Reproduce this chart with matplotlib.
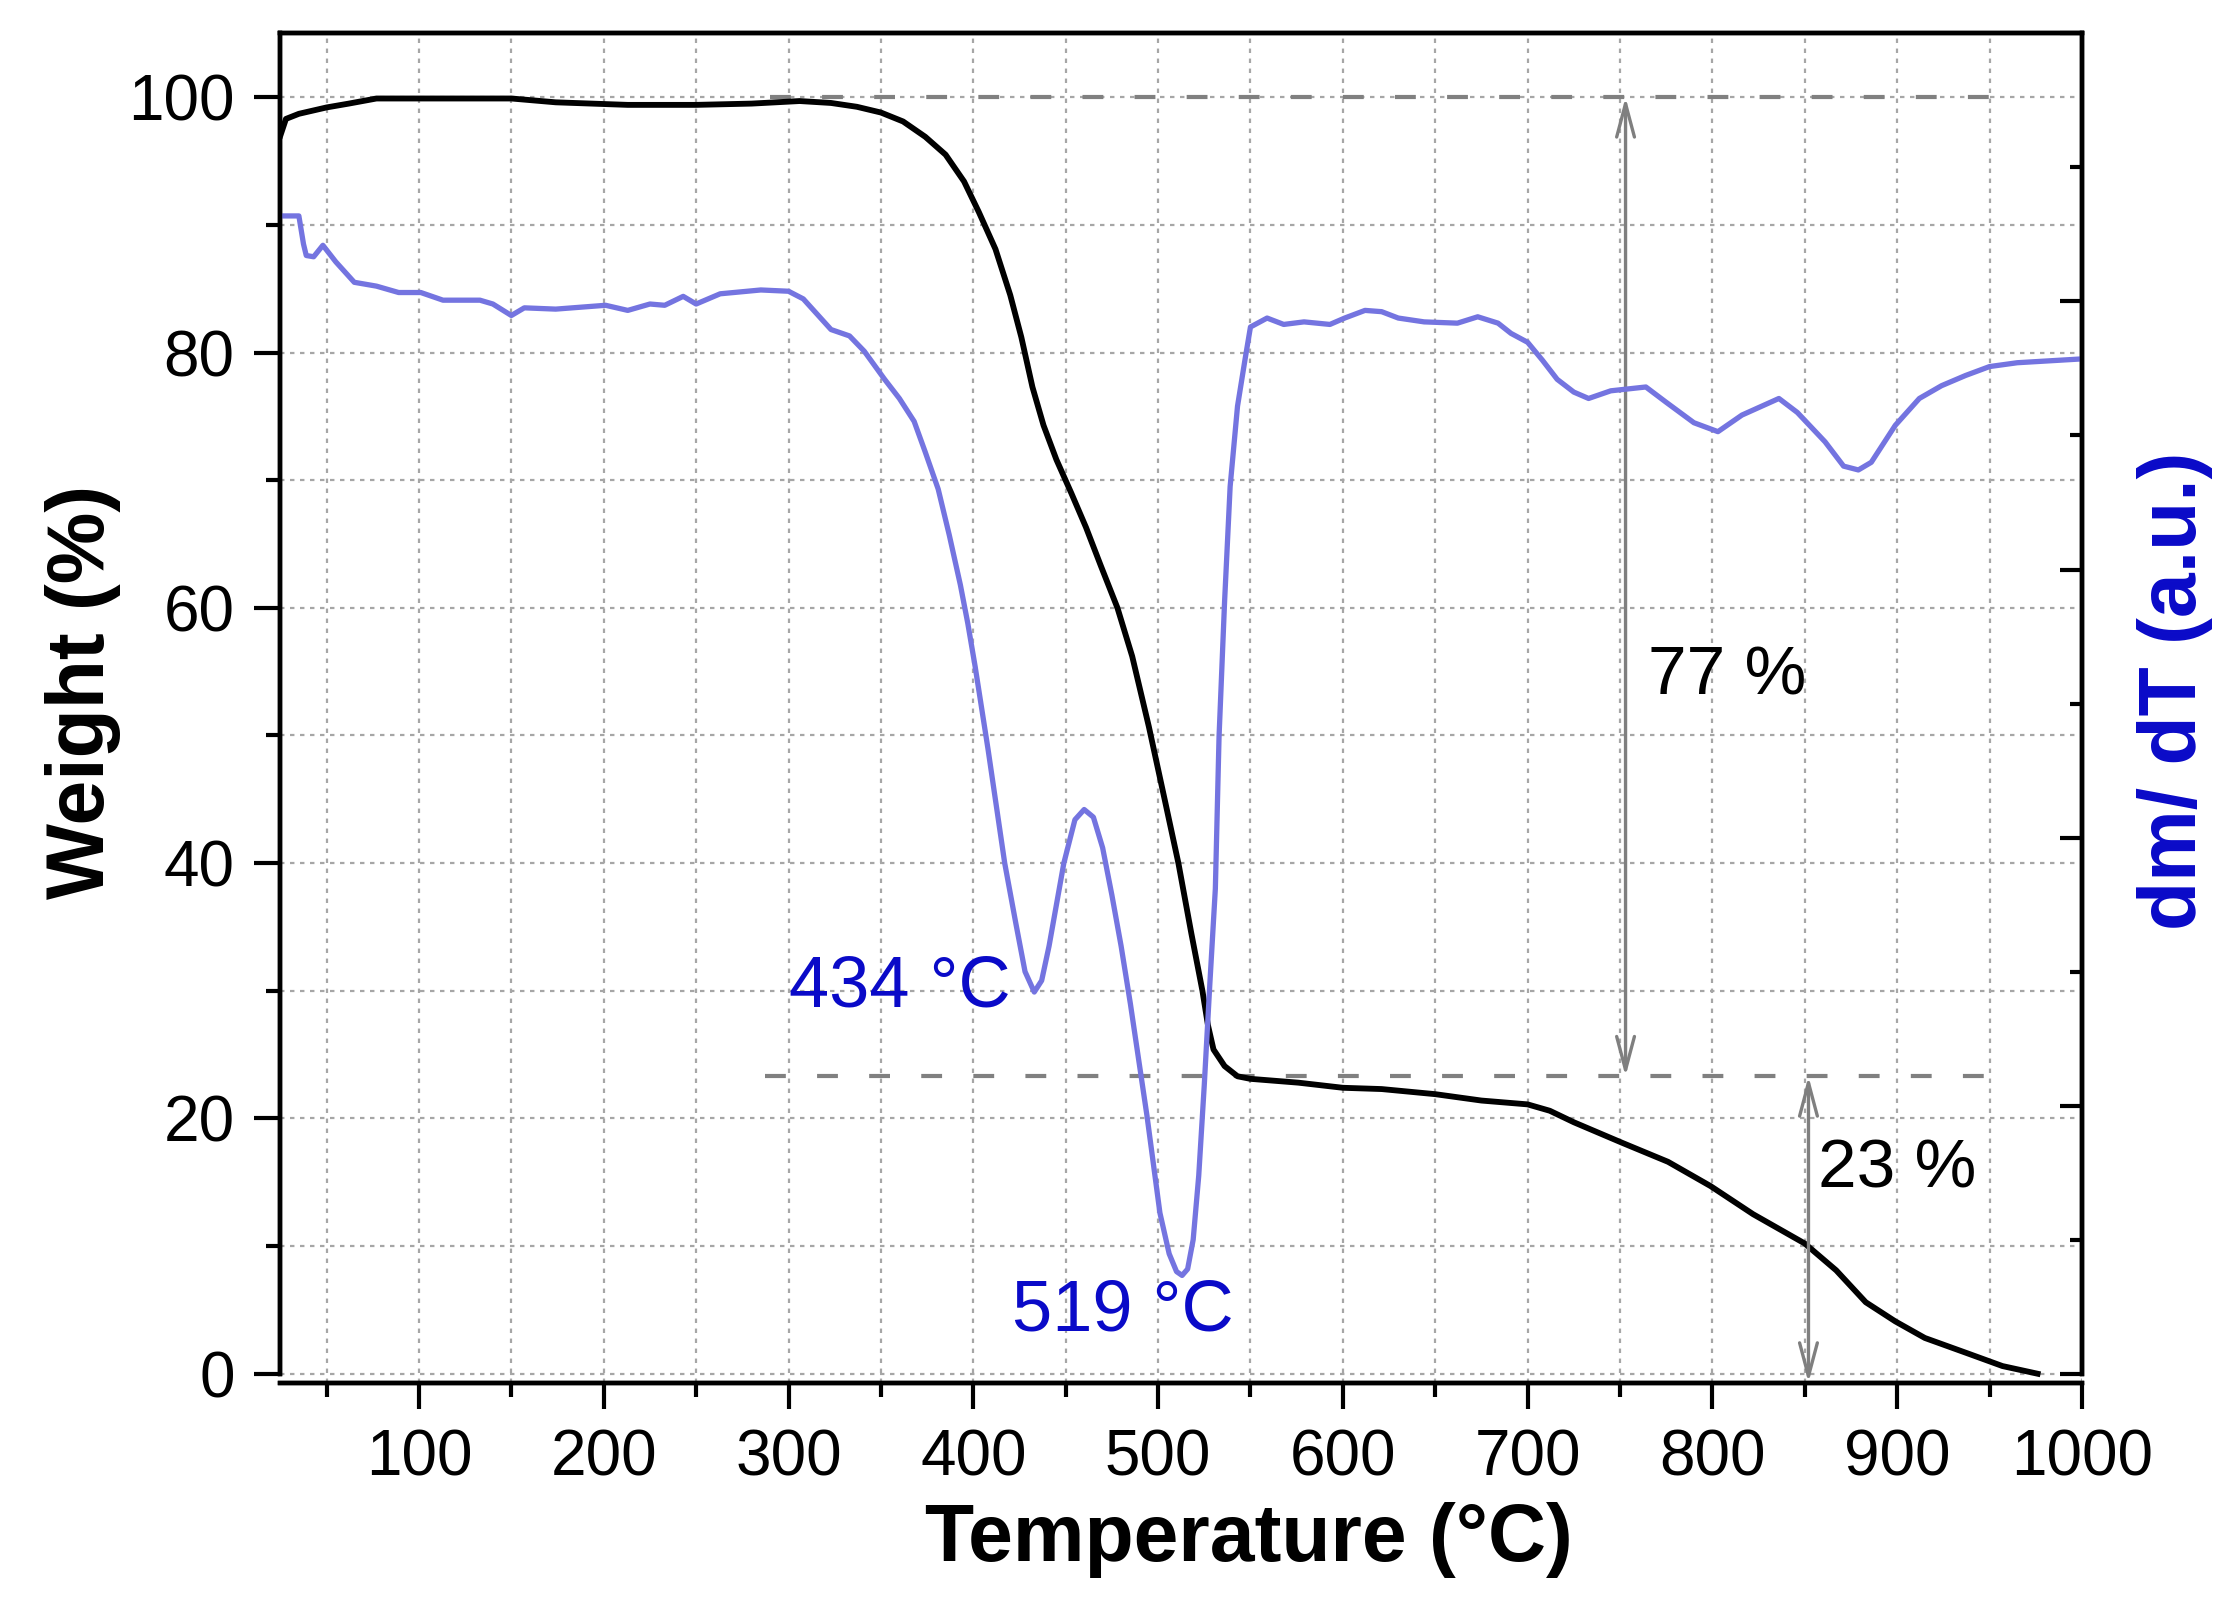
import matplotlib
matplotlib.use('Agg')
import matplotlib.pyplot as plt
from matplotlib.ticker import MultipleLocator, NullFormatter

plt.rcParams['font.family'] = ['Liberation Sans', 'DejaVu Sans']

# TGA weight loss curve (black)
temp_w = [25, 28, 35, 50, 62, 77, 100, 150, 174, 213, 250, 280, 306, 323, 337, 350,
          362, 374, 385, 395, 403, 412, 420, 426, 432, 438, 445, 453, 461, 469, 478, 486,
          495, 504, 511, 518, 524, 527, 530, 536, 543, 550, 576, 600, 621, 650, 675, 700,
          712, 725, 751, 776, 799, 822, 850, 867, 883, 899, 915, 938, 957, 976]
weight = [97.0, 98.3, 98.7, 99.2, 99.5, 99.9, 99.9, 99.9, 99.6, 99.4, 99.4, 99.5,
          99.7, 99.55, 99.25, 98.8, 98.1, 96.9, 95.5, 93.4, 91.0, 88.1, 84.5, 81.2, 77.3,
          74.3, 71.6, 69.0, 66.3, 63.3, 60.0, 56.2, 50.7, 44.7, 40.0, 34.5, 30.0, 27.3,
          25.4, 24.1, 23.3, 23.1, 22.8, 22.4, 22.3, 21.9, 21.4, 21.1, 20.6, 19.7, 18.1,
          16.6, 14.7, 12.5, 10.2, 8.1, 5.6, 4.1, 2.8, 1.6, 0.6, 0.0]

# DTG curve (blue), arbitrary units drawn on the same scale
temp_d = [25, 35, 37.5, 39, 43, 48, 55, 65, 77, 89, 101, 113, 133, 140, 150, 157, 174,
          201, 213, 225, 233, 243, 250, 263, 285, 300, 308, 323, 333, 341, 352, 360, 368,
          374, 381, 387, 393, 397, 401, 408, 417, 423, 428, 433, 437, 441, 449, 455, 460,
          465, 470, 475, 480, 485, 494, 501, 506, 510, 513, 516, 519, 522, 525, 528, 531,
          533, 536, 539, 543, 547, 550, 559, 568, 579, 593, 601, 612, 621, 630, 644, 662,
          673, 684, 691, 700, 708, 716, 725, 733, 745, 764, 775, 790, 803, 816, 836, 846,
          861, 871, 879, 886, 899, 912, 924, 937, 950, 965, 1000]
dtg = [90.7, 90.7, 88.5, 87.6, 87.5, 88.4, 87.1, 85.5, 85.2, 84.7, 84.7, 84.1, 84.1, 83.8,
       82.9, 83.5, 83.4, 83.7, 83.3, 83.8, 83.7, 84.4, 83.8, 84.6, 84.9, 84.8, 84.2, 81.8,
       81.3, 80.1, 77.9, 76.4, 74.6, 72.2, 69.3, 65.7, 61.8, 58.8, 55.4, 48.9, 40.0, 35.3,
       31.5, 29.9, 30.8, 33.5, 40.0, 43.4, 44.2, 43.6, 41.2, 37.5, 33.5, 29.0, 20.2, 12.6,
       9.4, 8.0, 7.7, 8.2, 10.5, 15.5, 22.6, 30.5, 38.0, 49.9, 60.5, 69.5, 75.8, 79.4,
       82.0, 82.7, 82.2, 82.4, 82.2, 82.7, 83.3, 83.2, 82.7, 82.4, 82.3, 82.8, 82.3, 81.5,
       80.8, 79.4, 77.9, 76.9, 76.4, 77.0, 77.3, 76.1, 74.5, 73.8, 75.1, 76.4, 75.3, 73.0,
       71.1, 70.8, 71.4, 74.3, 76.4, 77.4, 78.2, 78.9, 79.2, 79.5]

# reference levels and the two loss steps
levels = [100, 23.3]
level_start = [290, 287]
level_end = 952
loss_x = [753, 852]
loss_top = [100, 23.3]
loss_bottom = [23.3, -0.7]
loss_text = ['77 %', '23 %']
loss_text_pos = [(765, 54.6), (857, 16.0)]
peak_text = ['434 °C', '519 °C']
peak_text_pos = [(300, 30.2), (421, 4.8)]

blue_line = '#7474E0'
blue_text = '#0A0AC8'

fig = plt.figure(figsize=(11.18, 8.105), dpi=200)
ax = fig.add_axes([0.1254, 0.1468, 0.9311 - 0.1254, 0.9794 - 0.1468])
ax2 = ax.twinx()

ax.set_xlim(25, 1000)
ax.set_ylim(-0.73, 105)
ax2.set_ylim(-0.73, 105)

ax.grid(which='both', linestyle=(0, (2, 2.5)), color='#a6a6a6', linewidth=0.8)
ax.set_axisbelow(True)

for y0, x0 in zip(levels, level_start):
    ax.plot([x0, level_end], [y0, y0], color='#808080', lw=1.5, dashes=(5, 7.5))

ax.plot(temp_w, weight, color='black', lw=2.1, zorder=3)
ax2.plot(temp_d, dtg, color=blue_line, lw=1.9)

for x0, y1, y2 in zip(loss_x, loss_top, loss_bottom):
    ax.annotate('', xy=(x0, y1), xytext=(x0, y2), annotation_clip=False,
                arrowprops=dict(arrowstyle='<->,head_length=0.6,head_width=0.16',
                                mutation_scale=20, color='#7f7f7f', lw=1.2,
                                shrinkA=0, shrinkB=0))

for s, (x0, y0) in zip(loss_text, loss_text_pos):
    ax.text(x0, y0, s, fontsize=25, ha='left', va='center', color='black')
for s, (x0, y0) in zip(peak_text, peak_text_pos):
    ax.text(x0, y0, s, fontsize=26, ha='left', va='center', color=blue_text)

ax.xaxis.set_major_locator(MultipleLocator(100))
ax.xaxis.set_minor_locator(MultipleLocator(50))
ax.yaxis.set_major_locator(MultipleLocator(20))
ax.yaxis.set_minor_locator(MultipleLocator(10))
ax.tick_params(which='major', direction='out', length=9.5, width=1.5, labelsize=23, pad=7)
ax.tick_params(which='minor', direction='out', length=5, width=1.5)
ax.tick_params(axis='y', which='both', right=False)
ax.tick_params(axis='x', which='both', top=False)

ax2.yaxis.set_major_locator(MultipleLocator(21))
ax2.yaxis.set_minor_locator(MultipleLocator(10.5))
ax2.yaxis.set_major_formatter(NullFormatter())
ax2.tick_params(which='major', direction='in', length=8, width=1.5)
ax2.tick_params(which='minor', direction='in', length=4.5, width=1.5)

for a in (ax, ax2):
    for sp in a.spines.values():
        sp.set_linewidth(1.6)
    a.spines['left'].set_bounds(0, 105)
    a.spines['right'].set_bounds(0, 105)

ax.set_xlabel('Temperature (°C)', fontsize=29, fontweight='bold', va='center', ha='center')
ax.xaxis.set_label_coords(0.5586, 0.050, transform=fig.transFigure)
ax.set_ylabel('Weight (%)', fontsize=29, fontweight='bold', va='center', ha='center')
ax.yaxis.set_label_coords(0.037, 0.573, transform=fig.transFigure)
ax2.set_ylabel('dm/ dT (a.u.)', fontsize=29, fontweight='bold', color=blue_text,
               va='center', ha='center', rotation=90)
ax2.yaxis.set_label_coords(0.9727, 0.574, transform=fig.transFigure)

fig.savefig('out.png', dpi=200)
